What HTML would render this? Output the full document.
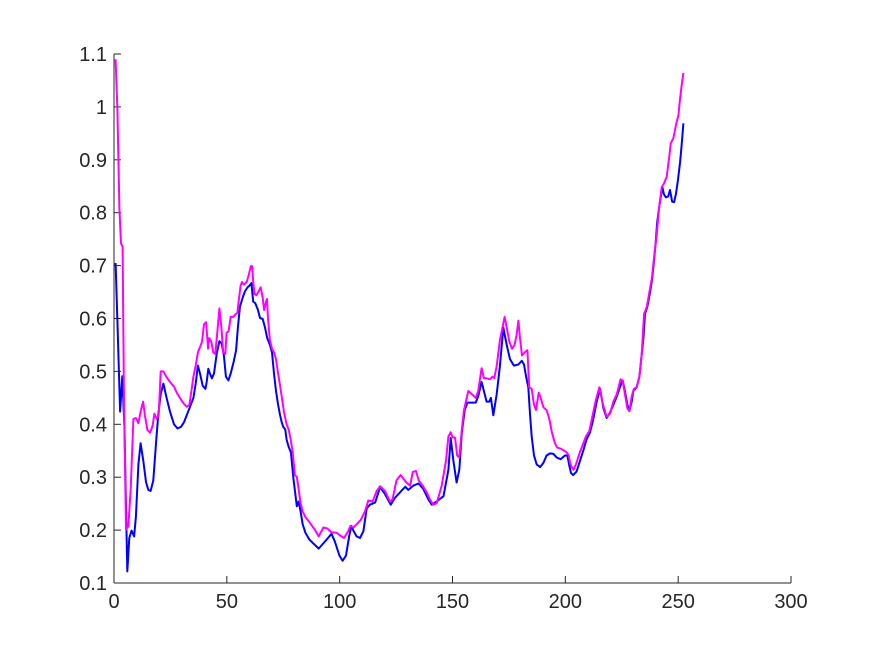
<!DOCTYPE html>
<html><head><meta charset="utf-8"><style>
html,body{margin:0;padding:0;background:#fff;}
svg{display:block;}
text{font-family:"Liberation Sans",sans-serif;font-size:20px;fill:#262626;}
</style></head><body>
<svg id="chart" width="875" height="656" viewBox="0 0 875 656">
<g id="axes"></g>
<g id="series"></g>
</svg>
<script>
const xTicks=[0,50,100,150,200,250,300];
const yTicks=[0.1,0.2,0.3,0.4,0.5,0.6,0.7,0.8,0.9,1,1.1];
const yTickLabels=["0.1","0.2","0.3","0.4","0.5","0.6","0.7","0.8","0.9","1","1.1"];
const blueX=[0.7,1.5,2.7,3.7,4.6,5.9,6.8,7.8,8.9,9.7,10.8,11.8,13.0,14.2,15.2,16.2,17.4,18.6,19.6,20.7,21.9,23.3,24.8,26.6,28.2,29.7,31.0,32.2,33.7,35.2,36.2,37.2,38.1,39.3,40.5,41.1,41.8,42.5,43.4,44.3,45.5,46.7,47.7,48.7,49.6,50.7,51.7,52.9,54.1,54.9,55.8,57.0,58.1,59.2,60.0,60.9,61.7,62.6,63.8,64.7,65.9,66.9,67.9,69.1,70.0,70.9,71.8,72.7,73.6,74.3,75.0,75.9,76.5,77.4,78.4,79.5,81.0,81.8,82.7,83.6,84.8,86.6,90.7,94.2,96.4,97.9,99.9,101.3,102.8,104.3,105.2,106.1,107.5,109.0,110.5,112.0,113.4,115.7,117.9,120.1,122.6,124.5,126.7,129.1,130.4,132.6,134.9,137.0,139.3,140.8,143.0,146.0,148.2,149.2,150.4,151.8,153.0,154.1,155.4,156.6,158.5,160.3,161.4,162.9,163.9,165.1,166.3,167.0,168.1,169.6,171.0,172.5,174.0,175.5,177.2,179.2,180.7,181.7,182.6,183.6,184.4,185.1,186.1,187.3,188.8,190.3,191.7,193.2,194.7,196.2,197.9,199.8,200.9,201.8,202.5,203.5,205.0,206.5,208.0,209.4,210.9,212.4,213.9,215.4,216.9,218.3,219.8,221.3,222.8,224.2,225.4,226.4,227.5,228.4,229.4,230.1,231.6,232.8,233.8,234.6,235.3,236.3,237.5,238.5,239.3,240.0,240.7,241.5,242.2,243.0,243.7,244.6,245.6,246.4,247.3,248.2,249.0,249.9,250.8,251.5,252.3];
const blueY=[0.705,0.596,0.424,0.491,0.397,0.122,0.185,0.199,0.188,0.225,0.324,0.364,0.331,0.291,0.276,0.274,0.294,0.364,0.417,0.457,0.477,0.450,0.424,0.400,0.392,0.395,0.404,0.417,0.433,0.450,0.477,0.511,0.496,0.473,0.467,0.480,0.505,0.496,0.487,0.496,0.533,0.557,0.553,0.530,0.490,0.483,0.496,0.516,0.540,0.583,0.622,0.639,0.652,0.659,0.662,0.667,0.632,0.629,0.616,0.601,0.599,0.583,0.563,0.550,0.536,0.496,0.463,0.437,0.417,0.404,0.395,0.390,0.371,0.357,0.347,0.298,0.245,0.254,0.235,0.211,0.195,0.182,0.165,0.182,0.193,0.178,0.152,0.142,0.152,0.191,0.208,0.199,0.188,0.185,0.198,0.241,0.248,0.252,0.281,0.268,0.248,0.261,0.271,0.282,0.276,0.284,0.288,0.278,0.258,0.248,0.254,0.264,0.314,0.374,0.331,0.290,0.314,0.384,0.427,0.441,0.441,0.441,0.453,0.480,0.463,0.443,0.443,0.450,0.417,0.457,0.510,0.583,0.550,0.523,0.511,0.513,0.520,0.513,0.490,0.470,0.417,0.377,0.341,0.324,0.319,0.327,0.341,0.345,0.344,0.337,0.334,0.341,0.341,0.321,0.308,0.304,0.311,0.331,0.351,0.371,0.384,0.410,0.443,0.467,0.430,0.412,0.422,0.437,0.453,0.470,0.483,0.463,0.437,0.425,0.443,0.463,0.470,0.490,0.530,0.563,0.609,0.622,0.649,0.675,0.709,0.742,0.782,0.808,0.828,0.848,0.835,0.829,0.831,0.843,0.821,0.820,0.835,0.861,0.894,0.927,0.969];
const magX=[0.7,1.5,2.4,3.1,3.8,4.4,5.3,6.4,7.4,8.6,9.7,10.8,11.8,12.9,13.7,14.8,16.0,17.1,17.9,18.9,19.8,20.7,21.9,23.3,24.8,26.6,27.8,29.2,30.7,32.2,33.4,34.3,35.2,36.3,37.2,38.1,39.0,39.9,40.8,41.7,42.2,43.1,44.0,44.9,45.8,46.7,47.6,48.4,49.3,49.9,50.8,51.7,52.9,53.8,54.7,55.2,56.1,56.7,57.6,58.8,59.7,60.6,61.2,61.7,62.3,63.2,64.1,65.0,65.9,66.5,67.4,67.8,68.2,69.1,70.0,70.9,71.8,72.7,73.6,74.4,75.3,76.5,77.4,78.3,79.2,80.1,81.0,81.8,82.7,83.6,84.8,86.6,89.0,90.7,92.8,94.5,96.4,98.7,100.1,101.9,103.8,104.8,106.1,107.5,109.3,111.2,112.7,114.6,116.4,117.9,120.1,122.3,123.4,125.2,127.0,129.4,131.2,132.4,133.8,135.0,136.8,138.6,140.0,141.5,143.0,145.2,147.1,148.2,149.2,150.1,151.1,152.1,153.0,154.1,155.1,157.0,158.5,160.3,161.4,162.9,163.9,165.1,166.6,167.7,168.5,169.6,171.0,173.1,174.0,175.2,176.4,177.5,178.4,179.2,179.9,180.8,182.0,183.2,184.0,185.1,186.1,187.0,188.2,189.1,190.3,191.7,192.9,194.1,195.4,196.4,197.9,199.1,200.6,201.5,202.1,202.8,203.6,204.7,206.2,207.7,209.1,210.6,212.1,213.6,215.1,216.5,218.3,219.8,221.3,222.8,224.5,225.4,226.4,227.5,228.4,229.4,230.4,231.6,232.8,233.8,234.9,236.1,237.2,238.3,239.3,240.5,241.5,242.7,243.7,244.9,246.1,246.7,247.9,249.1,250.1,250.8,251.5,252.3];
const magY=[1.090,0.994,0.808,0.742,0.736,0.463,0.201,0.208,0.278,0.410,0.412,0.402,0.424,0.443,0.417,0.389,0.384,0.397,0.420,0.410,0.417,0.500,0.500,0.489,0.480,0.471,0.460,0.450,0.440,0.433,0.437,0.463,0.490,0.513,0.536,0.546,0.556,0.589,0.593,0.543,0.563,0.556,0.536,0.533,0.576,0.619,0.583,0.536,0.533,0.573,0.576,0.603,0.603,0.608,0.611,0.632,0.662,0.669,0.664,0.669,0.682,0.699,0.699,0.669,0.646,0.644,0.652,0.659,0.639,0.616,0.632,0.637,0.603,0.559,0.543,0.536,0.523,0.496,0.473,0.450,0.424,0.400,0.390,0.371,0.347,0.304,0.301,0.278,0.251,0.235,0.225,0.215,0.201,0.188,0.205,0.203,0.196,0.195,0.190,0.185,0.198,0.208,0.205,0.211,0.219,0.235,0.256,0.254,0.274,0.283,0.274,0.254,0.258,0.294,0.304,0.291,0.284,0.310,0.312,0.294,0.284,0.271,0.258,0.248,0.251,0.284,0.331,0.377,0.385,0.375,0.375,0.341,0.337,0.390,0.427,0.463,0.457,0.450,0.463,0.506,0.487,0.487,0.485,0.490,0.487,0.510,0.559,0.603,0.583,0.556,0.543,0.550,0.569,0.596,0.563,0.530,0.536,0.540,0.470,0.467,0.437,0.427,0.460,0.450,0.432,0.427,0.410,0.384,0.364,0.356,0.354,0.351,0.347,0.341,0.327,0.319,0.314,0.324,0.344,0.361,0.377,0.387,0.417,0.447,0.470,0.440,0.414,0.420,0.443,0.457,0.485,0.482,0.457,0.430,0.425,0.453,0.467,0.470,0.490,0.530,0.609,0.622,0.649,0.675,0.715,0.758,0.808,0.848,0.855,0.868,0.908,0.931,0.941,0.967,0.984,1.014,1.040,1.064];

const NS="http://www.w3.org/2000/svg";
const L=114,R=791,B=583,T=54;
const xMin=0,xMax=300,yMin=0.1,yMax=1.1;
function sx(v){return L+(v-xMin)/(xMax-xMin)*(R-L);}
function sy(v){return B-(v-yMin)/(yMax-yMin)*(B-T);}
function mk(tag,attrs,parent){const e=document.createElementNS(NS,tag);for(const k in attrs)e.setAttribute(k,attrs[k]);parent.appendChild(e);return e;}
const axes=document.getElementById('axes');
const ser=document.getElementById('series');

let e=mk('line',{x1:L,y1:B,x2:R,y2:B,stroke:'#262626','stroke-width':1},axes);


e=mk('line',{x1:L,y1:B,x2:L,y2:T,stroke:'#262626','stroke-width':1},axes);



xTicks.forEach(v=>{
  const t=mk('line',{x1:sx(v),y1:B,x2:sx(v),y2:B-7,stroke:'#262626','stroke-width':1},axes);
  
  
  const lb=mk('text',{x:sx(v),y:B+25,'text-anchor':'middle'},axes);
  lb.textContent=String(v);
  
  
});
yTicks.forEach((v,i)=>{
  const t=mk('line',{x1:L,y1:sy(v),x2:L+7,y2:sy(v),stroke:'#262626','stroke-width':1},axes);
  
  
  const lb=mk('text',{x:L-7,y:sy(v)+7,'text-anchor':'end'},axes);
  lb.textContent=yTickLabels[i];
  
  
});
function line(xs,ys,color,name){
  const d=xs.map((x,i)=>(i?'L':'M')+sx(x).toFixed(1)+' '+sy(ys[i]).toFixed(1)).join(' ');
  const p=mk('path',{d:d,fill:'none',stroke:color,'stroke-width':2,'stroke-linejoin':'round'},ser);
  
  
}
line(blueX,blueY,'#0000ff','blue-series-line');
line(magX,magY,'#ff00ff','magenta-series-line');
</script>
</body></html>
